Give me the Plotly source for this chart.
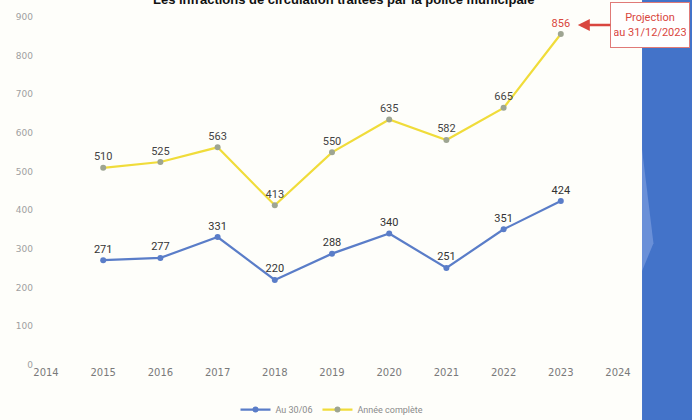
import plotly.graph_objects as go

years = [2015, 2016, 2017, 2018, 2019, 2020, 2021, 2022, 2023]
au_30_06 = [271, 277, 331, 220, 288, 340, 251, 351, 424]
annee_complete = [510, 525, 563, 413, 550, 635, 582, 665, 856]
x_ticks = list(range(2014, 2025))
y_ticks = list(range(0, 1000, 100))

title_text = "Les infractions de circulation traitées par la police municipale"
proj_text = "Projection<br>au 31/12/2023"

label_font = "Roboto, sans-serif"

yellow_label_colors = ["#444444"] * (len(annee_complete) - 1) + ["#d9463e"]

fig = go.Figure()
fig.add_trace(go.Scatter(
    x=years, y=au_30_06, name="Au 30/06",
    mode="lines+markers+text",
    line=dict(color="#5a7dc8", width=2.2),
    marker=dict(color="#5a7dc8", size=6),
    text=[str(v) for v in au_30_06], textposition="top center",
    textfont=dict(family=label_font, size=11, color="#333333"),
))
fig.add_trace(go.Scatter(
    x=years, y=annee_complete, name="Année complète",
    mode="lines+markers+text",
    line=dict(color="#f0dc3a", width=2.2),
    marker=dict(color="#9ea592", size=6),
    text=[str(v) for v in annee_complete], textposition="top center",
    textfont=dict(family=label_font, size=11, color=yellow_label_colors),
))

# decorative blue panel on the right
fig.add_shape(type="rect", xref="paper", yref="paper",
              x0=1.042, x1=1.2, y0=-0.2, y1=1.1,
              fillcolor="#4373c9", line=dict(width=0), layer="below")
fig.add_shape(type="path", xref="paper", yref="paper",
              path="M 1.042 0.62 L 1.062 0.35 L 1.042 0.27 Z",
              fillcolor="#6a90d8", line=dict(width=0), layer="below")

# partially visible title at the top edge (as in the cropped source)
fig.add_annotation(
    x=0.52, y=1.049, xref="paper", yref="paper", xanchor="center", yanchor="middle",
    text=title_text, showarrow=False,
    font=dict(family="Liberation Sans, Arial, sans-serif", size=13,
              color="#111111", weight="bold"),
)

fig.add_annotation(
    x=2023, y=annee_complete[-1], xref="x", yref="y",
    xshift=17, yshift=9,
    ax=72, ay=0, axref="pixel", ayref="pixel",
    text=proj_text, showarrow=True,
    arrowhead=2, arrowsize=1, arrowwidth=2.4, arrowcolor="#d9463e",
    font=dict(family=label_font, size=11, color="#d9463e"),
    bordercolor="#e07a78", borderwidth=1, borderpad=3,
    bgcolor="#ffffff", width=72, height=38, align="center",
)

fig.update_layout(
    width=692, height=420,
    margin=dict(l=46, r=74, t=17, b=55, autoexpand=False),
    paper_bgcolor="#fefefa", plot_bgcolor="#fefefa",
    showlegend=True,
    legend=dict(orientation="h", x=0.5, xanchor="center", y=-0.128,
                yanchor="middle", font=dict(family="Roboto, sans-serif",
                                            size=9, color="#8a8a8a"),
                itemwidth=30, bgcolor="rgba(0,0,0,0)"),
    xaxis=dict(range=[2014, 2024], tickvals=x_ticks, ticktext=[str(t) for t in x_ticks],
               showgrid=False, zeroline=False, showline=False, automargin=False,
               tickfont=dict(family="DejaVu Sans, sans-serif", size=10, color="#7a7a7a")),
    yaxis=dict(range=[0, 900], tickvals=y_ticks, showgrid=False, zeroline=False,
               showline=False, ticklabelstandoff=12, automargin=False,
               tickfont=dict(family="DejaVu Sans, sans-serif", size=9, color="#a0a0a0")),
)

fig.write_html(
    "out.html",
    config={"displayModeBar": False},
    post_script="document.body.style.margin='0px';document.body.style.overflow='hidden';",
)
